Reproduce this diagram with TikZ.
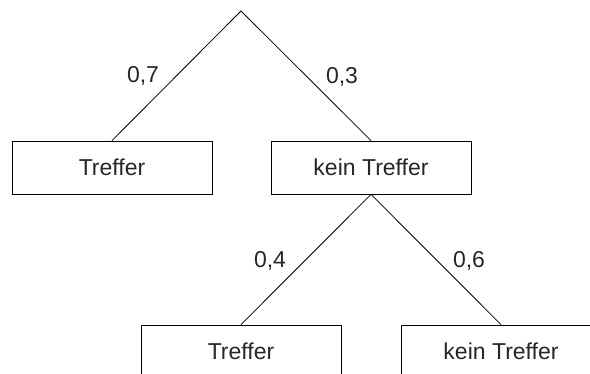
\documentclass[tikz,border=0pt]{standalone}
\usepackage{fontspec}
\setmainfont{Liberation Sans}
\begin{document}
\begin{tikzpicture}[x=1pt,y=-1pt,
  box/.style={draw, line width=0.8pt, minimum width=200pt, minimum height=53pt, inner sep=0pt, text=black!85, font=\fontsize{23}{27}\selectfont},
  prob/.style={anchor=base, inner sep=0pt, text=black!85, font=\fontsize{23}{27}\selectfont},
  branch/.style={line width=0.8pt}]
\useasboundingbox (0,0) rectangle (590,374);
\clip (0,0) rectangle (590,374);
\coordinate (root) at (241,11);
\node[box] (t1) at (112,167.5) {Treffer};
\node[box] (k1) at (371,167.5) {kein Treffer};
\node[box] (t2) at (241,351.5) {Treffer};
\node[box] (k2) at (501,351.5) {kein Treffer};
\draw[branch] (root) -- (t1.north);
\draw[branch] (root) -- (k1.north);
\draw[branch] (k1.south) -- (t2.north);
\draw[branch] (k1.south) -- (k2.north);
\node[prob] (p1) at (143,83) {0,7};
\node[prob] (p2) at (342,83.5) {0,3};
\node[prob] (p3) at (270,268) {0,4};
\node[prob] (p4) at (469,268) {0,6};
\end{tikzpicture}
\end{document}
